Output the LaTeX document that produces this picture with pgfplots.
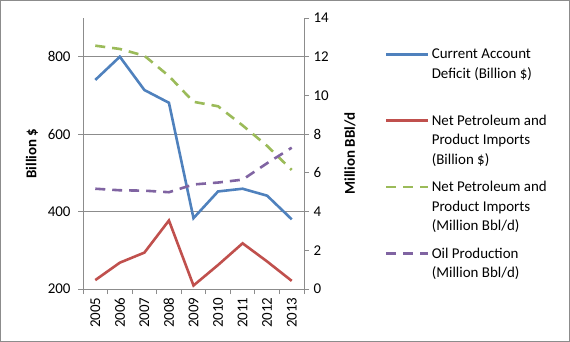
\documentclass[border=0pt]{standalone}
\usepackage{pgfplots}
\pgfplotsset{compat=1.18}
\usepackage{fontspec}
\setmainfont{Carlito}
\definecolor{cblue}{HTML}{4F81BD}
\definecolor{cred}{HTML}{C0504D}
\definecolor{cgreen}{HTML}{9BBB59}
\definecolor{cpurple}{HTML}{8064A2}
\definecolor{axgray}{HTML}{8C8C8C}
\begin{document}
\begin{tikzpicture}
\useasboundingbox (0bp,0bp) rectangle (570bp,342bp);
\draw[color=axgray, line width=1.2bp] (0.6bp,0.6bp) rectangle (569.4bp,341.4bp);
\pgfplotsset{
  every axis/.append style={
    scale only axis, width=221bp, height=271bp,
    xmin=-0.5, xmax=8.5,
    ticklabel style={font=\fontsize{15}{18}\selectfont},
    /pgf/number format/assume math mode=true,
    axis line style={axgray, line width=0.8bp},
    tick style={axgray, line width=0.8bp},
    major tick length=5bp, minor tick length=5bp,
    tick align=outside,
    label style={font=\bfseries\fontsize{15}{18}\selectfont},
  }
}
\begin{axis}[at={(83bp,53bp)}, anchor=south west,
  ymin=200, ymax=900, ytick={200,400,600,800},
  ymajorgrids, grid style={axgray, line width=0.8bp},
  axis y line*=left, axis x line*=bottom,
  xtick={0,1,2,3,4,5,6,7,8},
  xticklabels={2005,2006,2007,2008,2009,2010,2011,2012,2013},
  minor xtick={-0.5,0.5,...,8.5},
  major x tick style={draw=none},
  xticklabel style={rotate=90, anchor=east},
  yticklabel style={xshift=-4bp},
  ylabel={Billion \$},
  ylabel style={at={(axis description cs:-0.2308,0.5)}, anchor=center},
]
\addplot[cblue, line width=2.6bp] coordinates {(0,740) (1,800) (2,714) (3,681) (4,383) (5,452) (6,459) (7,441) (8,380)};
\addplot[cred, line width=2.6bp] coordinates {(0,223) (1,268) (2,294) (3,377) (4,209) (5,262) (6,318) (7,271) (8,221)};
\end{axis}
\begin{axis}[at={(83bp,53bp)}, anchor=south west,
  ymin=0, ymax=14, ytick={0,2,4,6,8,10,12,14},
  axis y line*=right, axis x line=none,
  yticklabel style={xshift=1bp},
  ylabel={Million BBl/d},
  ylabel style={at={(axis description cs:1.208,0.5)}, anchor=center, rotate=0},
  legend style={draw=none, fill=none, at={(1.3665,0.893)}, anchor=north west,
    font=\fontsize{15}{19.5}\selectfont, cells={anchor=west, align=left},
    row sep=11.7bp, inner sep=0pt},
  legend image code/.code={\draw[#1] (0bp,19.5bp) -- (42bp,19.5bp);},
]
\addlegendimage{cblue, line width=2.6bp}
\addlegendentry{Current Account\\Deficit (Billion \$)\\\mbox{}}
\addlegendimage{cred, line width=2.6bp}
\addlegendentry{Net Petroleum and\\Product Imports\\(Billion \$)}
\addplot[cgreen, line width=2.6bp, dash pattern=on 10bp off 7bp] coordinates {(0,12.57) (1,12.4) (2,12.05) (3,11.0) (4,9.67) (5,9.44) (6,8.45) (7,7.39) (8,6.15)};
\addlegendentry{Net Petroleum and\\Product Imports\\(Million Bbl/d)}
\addplot[cpurple, line width=2.6bp, dash pattern=on 10bp off 7bp] coordinates {(0,5.18) (1,5.1) (2,5.08) (3,5.0) (4,5.4) (5,5.5) (6,5.65) (7,6.5) (8,7.3)};
\addlegendentry{Oil Production\\(Million Bbl/d)\\\mbox{}}
\end{axis}
\end{tikzpicture}
\end{document}
